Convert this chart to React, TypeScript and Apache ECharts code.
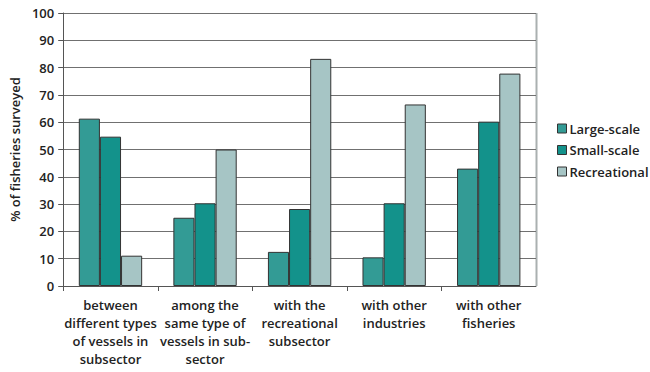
import React, { useEffect, useRef } from "react";
import * as echarts from "echarts";

const categories = [
  "between\ndifferent types\nof vessels in\nsubsector",
  "among the\nsame type of\nvessels in sub-\nsector",
  "with the\nrecreational\nsubsector",
  "with other\nindustries",
  "with other\nfisheries",
];
const largeScaleValues = [61.3, 25, 12.5, 10.5, 43];
const smallScaleValues = [54.7, 30.3, 28.2, 30.3, 60.2];
const recreationalValues = [11.1, 50, 83.2, 66.5, 77.8];
const yTicks = [0, 10, 20, 30, 40, 50, 60, 70, 80, 90, 100];

const FONT = "'Open Sans', 'Noto Sans', sans-serif";
const W = 600;

export default function App() {
  const ref = useRef<HTMLDivElement>(null);
  useEffect(() => {
    document.body.style.margin = "0";
    if (!ref.current) return;
    const chart = echarts.init(ref.current, undefined, { renderer: "svg" });
    const barStyle = (color: string) => ({
      color,
      borderColor: "#333333",
      borderWidth: 1,
    });
    chart.setOption({
      animation: false,
      textStyle: { fontFamily: FONT },
      grid: { left: 61, right: 114, top: 13, bottom: 86, containLabel: false },
      legend: {
        orient: "vertical",
        left: 552,
        top: 117,
        itemWidth: 9,
        itemHeight: 9,
        itemGap: 8.5,
        icon: "rect",
        textStyle: { fontFamily: FONT, fontSize: 13, fontWeight: W, color: "#222", padding: [0, 0, 0, -2] },
        data: [
          { name: "Large-scale", itemStyle: { borderColor: "#333", borderWidth: 1 } },
          { name: "Small-scale", itemStyle: { borderColor: "#333", borderWidth: 1 } },
          { name: "Recreational", itemStyle: { borderColor: "#333", borderWidth: 1 } },
        ],
      },
      graphic: [
        {
          type: "line",
          shape: { x1: 536.5, y1: 13, x2: 536.5, y2: 286 },
          style: { stroke: "#aab0b0", lineWidth: 2 },
          silent: true,
        },
      ],
      xAxis: {
        type: "category",
        data: categories,
        axisLine: { lineStyle: { color: "#555", width: 1 } },
        axisTick: { show: true, length: 5, lineStyle: { color: "#555" }, alignWithLabel: false },
        axisLabel: {
          interval: 0,
          fontFamily: FONT,
          fontSize: 13,
          fontWeight: W,
          color: "#222",
          lineHeight: 18,
          margin: 10,
        },
      },
      yAxis: {
        type: "value",
        min: yTicks[0],
        max: yTicks[yTicks.length - 1],
        interval: 10,
        name: "% of fisheries surveyed",
        nameLocation: "middle",
        nameGap: 41,
        nameTextStyle: { fontFamily: FONT, fontSize: 13, fontWeight: W, color: "#222" },
        axisLine: { show: true, lineStyle: { color: "#555" } },
        axisTick: { show: true, length: 5, lineStyle: { color: "#555" } },
        axisLabel: { fontFamily: FONT, fontSize: 13, fontWeight: W, color: "#222", margin: 9 },
        splitLine: { show: true, lineStyle: { color: "#707070", width: 1 } },
      },
      series: [
        {
          name: "Large-scale",
          type: "bar",
          data: largeScaleValues,
          itemStyle: barStyle("#339b95"),
          barGap: "0%",
          barCategoryGap: "33%",
        },
        {
          name: "Small-scale",
          type: "bar",
          data: smallScaleValues,
          itemStyle: barStyle("#13928b"),
        },
        {
          name: "Recreational",
          type: "bar",
          data: recreationalValues,
          itemStyle: barStyle("#a6c5c5"),
        },
      ],
    });
    return () => chart.dispose();
  }, []);
  return <div ref={ref} style={{ width: 650, height: 372 }} />;
}
